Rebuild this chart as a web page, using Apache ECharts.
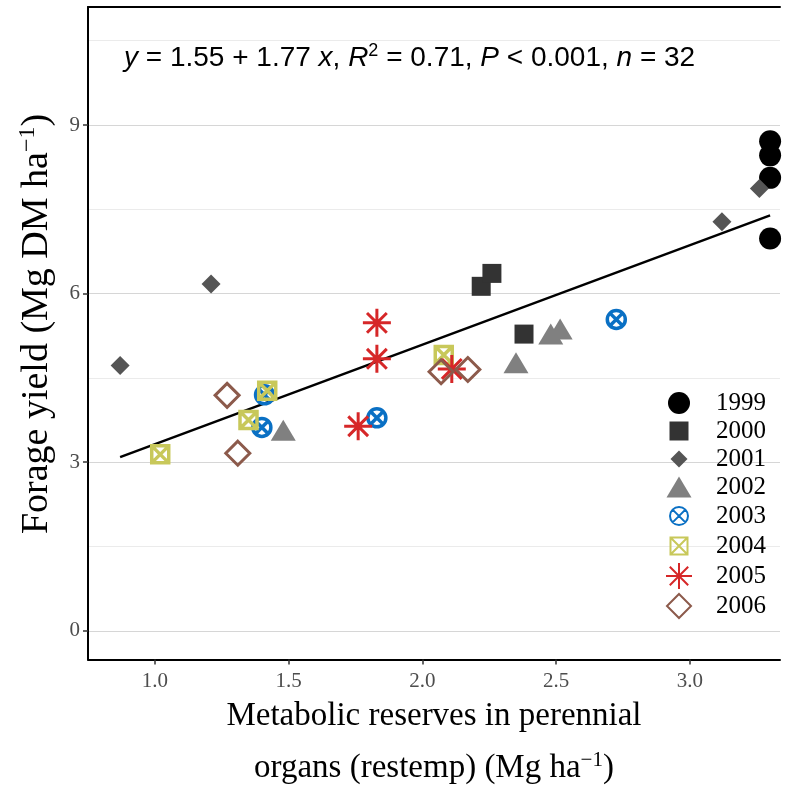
<!DOCTYPE html>
<html><head><meta charset="utf-8">
<script src="https://cdn.jsdelivr.net/npm/echarts@6/dist/echarts.min.js"></script>
<style>html,body{margin:0;padding:0;background:#fff}#c{width:790px;height:792px}</style>
</head><body><div id="c"></div>
<script>
// ---- data ----
var years = ['1999','2000','2001','2002','2003','2004','2005','2006'];
var x1999 = [3.30, 3.30, 3.30, 3.30];
var y1999 = [8.71, 8.46, 8.06, 6.98];
var x2000 = [2.22, 2.26, 2.38];
var y2000 = [6.13, 6.36, 5.28];
var x2001 = [0.87, 1.21, 3.12, 3.26];
var y2001 = [4.72, 6.17, 7.28, 7.87];
var x2002 = [1.48, 2.35, 2.48, 2.515];
var y2002 = [3.57, 4.77, 5.28, 5.37];
var x2003 = [1.41, 1.40, 1.83, 2.725];
var y2003 = [4.20, 3.62, 3.79, 5.54];
var x2004 = [1.02, 1.35, 1.42, 2.08];
var y2004 = [3.14, 3.75, 4.27, 4.91];
var x2005 = [1.83, 1.83, 2.11, 1.76];
var y2005 = [5.48, 4.84, 4.66, 3.64];
var x2006 = [1.27, 1.31, 2.07, 2.17];
var y2006 = [4.19, 3.16, 4.61, 4.65];
var xTicks = [1.0, 1.5, 2.0, 2.5, 3.0];
var yTicks = [0, 3, 6, 9];
var yMinor = [1.5, 4.5, 7.5, 10.5];
var fitIntercept = 1.55, fitSlope = 1.77;

function pairs(xs, ys){ return xs.map(function(v,i){return [v, ys[i]];}); }
var xsAll = [].concat(x1999,x2000,x2001,x2002,x2003,x2004,x2005,x2006);
var xLo = Math.min.apply(null, xsAll), xHi = Math.max.apply(null, xsAll);
var fitLine = [[xLo, fitIntercept + fitSlope*xLo],[xHi, fitIntercept + fitSlope*xHi]];

var circleX = 'path://M0,10A10,10 0 1,1 20,10A10,10 0 1,1 0,10Z M2.93,2.93L17.07,17.07 M17.07,2.93L2.93,17.07';
var squareX = 'path://M0,0H20V20H0Z M0,0L20,20 M20,0L0,20';
var aster = 'path://M10,0V20 M0,10H20 M2.93,2.93L17.07,17.07 M17.07,2.93L2.93,17.07';

// legend icons (28x28 box, padded so keepAspect keeps their size)
var B = 'M0,0M28,28';
var legendIcons = {
  '1999':'path://'+B+'M3,14A11,11 0 1,1 25,14A11,11 0 1,1 3,14Z',
  '2000':'path://'+B+'M4.5,4.5H23.5V23.5H4.5Z',
  '2001':'path://'+B+'M14,5.5L22.5,14L14,22.5L5.5,14Z',
  '2002':'path://'+B+'M14,3.5L26.5,24.5H1.5Z',
  '2003':'path://'+B+'M5,14A9,9 0 1,1 23,14A9,9 0 1,1 5,14Z M7.64,7.64L20.36,20.36 M20.36,7.64L7.64,20.36',
  '2004':'path://'+B+'M5.5,5.5H22.5V22.5H5.5Z M5.5,5.5L22.5,22.5 M22.5,5.5L5.5,22.5',
  '2005':'path://'+B+'M14,1V27 M1,14H27 M4.8,4.8L23.2,23.2 M23.2,4.8L4.8,23.2',
  '2006':'path://'+B+'M14,2L26,14L14,26L2,14Z'
};

var serif = 'Liberation Serif';
var el = document.getElementById('c');
var chart = echarts.init(el, null, {renderer:'canvas', width:790, height:792});

var seriesDefs = [
  {name:'1999', d:pairs(x1999,y1999), symbol:'circle', size:22, style:{color:'#000'}},
  {name:'2000', d:pairs(x2000,y2000), symbol:'rect', size:19, style:{color:'#333333'}},
  {name:'2001', d:pairs(x2001,y2001), symbol:'diamond', size:19, style:{color:'#555555'}},
  {name:'2002', d:pairs(x2002,y2002), symbol:'triangle', size:[25,21], style:{color:'#808080'}},
  {name:'2003', d:pairs(x2003,y2003), symbol:circleX, size:18, style:{color:'transparent', borderColor:'#0a70c4', borderWidth:3.5}},
  {name:'2004', d:pairs(x2004,y2004), symbol:squareX, size:17, style:{color:'transparent', borderColor:'#c8c85a', borderWidth:3.5}},
  {name:'2005', d:pairs(x2005,y2005), symbol:aster, size:28, style:{color:'transparent', borderColor:'#d62728', borderWidth:3}},
  {name:'2006', d:pairs(x2006,y2006), symbol:'diamond', size:24, style:{color:'transparent', borderColor:'#8c5a4b', borderWidth:3}}
];

var series = [{
  type:'line', name:'fit', data:fitLine, showSymbol:false, symbol:'none', silent:true,
  lineStyle:{color:'#000', width:2.5}, z:3
}];
seriesDefs.forEach(function(s){
  var st = Object.assign({opacity:1}, s.style);
  series.push({type:'scatter', name:s.name, data:s.d, symbol:s.symbol, symbolSize:s.size,
    itemStyle:st, z:5, emphasis:{disabled:true}});
});

chart.setOption({
  animation:false,
  backgroundColor:'#fff',
  grid:{left:88, right:10, top:7, bottom:108, containLabel:false},
  xAxis:[{
    type:'value', min:0.75, max:3.337,
    axisLine:{show:true, onZero:false, lineStyle:{color:'#000', width:2}},
    axisTick:{show:true, length:5, customValues:xTicks, lineStyle:{color:'#333', width:1.5}},
    axisLabel:{customValues:xTicks, formatter:function(v){return v.toFixed(1);}, color:'#4d4d4d', fontFamily:serif, fontSize:21, margin:11},
    splitLine:{show:false},
    name:'{t|Metabolic reserves in perennial}\n{t|organs (restemp) (Mg ha}{s|\u22121}{t|)}',
    nameLocation:'middle', nameGap:31,
    nameTextStyle:{rich:{
      t:{fontFamily:serif, fontSize:33, color:'#000', lineHeight:52},
      s:{fontFamily:serif, fontSize:21, color:'#000', lineHeight:52, padding:[0,0,16,0]}
    }}
  },{
    type:'value', position:'top', min:0.75, max:3.337,
    axisLine:{show:true, onZero:false, lineStyle:{color:'#000', width:2}},
    axisTick:{show:false}, axisLabel:{show:false}, splitLine:{show:false}
  }],
  yAxis:[{
    type:'value', min:-0.51, max:11.1,
    axisLine:{show:true, onZero:false, lineStyle:{color:'#000', width:2}},
    axisTick:{show:true, length:5, customValues:yTicks, lineStyle:{color:'#333', width:1.5}},
    axisLabel:{customValues:yTicks, color:'#4d4d4d', fontFamily:serif, fontSize:21, margin:8},
    splitLine:{show:true, lineStyle:{color:'#d6d6d6', width:1}}
  },{
    type:'value', min:-0.51, max:11.1, position:'left',
    axisLine:{show:false}, axisTick:{show:false, customValues:yMinor},
    axisLabel:{show:false, customValues:yMinor},
    splitLine:{show:true, lineStyle:{color:'#ebebeb', width:1}}
  }],
  legend:{
    data:years.map(function(y){return {name:y, icon:legendIcons[y]};}),
    orient:'vertical', left:659, top:384,
    itemWidth:28, itemHeight:28, itemGap:0, symbolKeepAspect:true,
    formatter:function(n){return '{g|}{t|'+n+'}';},
    textStyle:{fontFamily:serif, fontSize:25, color:'#000', lineHeight:26,
      rich:{g:{width:18}, t:{fontFamily:serif, fontSize:25, color:'#000', lineHeight:26}}},
    selectedMode:false
  },
  graphic:[{
    type:'text', left:124, top:42,
    style:{
      text:'{i|y} = 1.55 + 1.77 {i|x}, {i|R}{s|2} = 0.71, {i|P} < 0.001, {i|n} = 32',
      rich:{
        i:{fontFamily:'Liberation Sans', fontStyle:'italic', fontSize:28, fill:'#000', lineHeight:32},
        s:{fontFamily:'Liberation Sans', fontSize:18, fill:'#000', lineHeight:32, padding:[0,0,14,0]}
      },
      font:'28px "Liberation Sans"', fill:'#000'
    }
  },{
    type:'text', x:37, y:324, rotation:Math.PI/2,
    style:{
      text:'{t|Forage yield (Mg DM ha}{s|\u22121}{t|)}',
      align:'center', verticalAlign:'middle',
      rich:{
        t:{fontFamily:serif, fontSize:38, fill:'#000', lineHeight:42},
        s:{fontFamily:serif, fontSize:24, fill:'#000', lineHeight:42, padding:[0,0,18,0]}
      }
    }
  }],
  series:series
});
</script></body></html>
